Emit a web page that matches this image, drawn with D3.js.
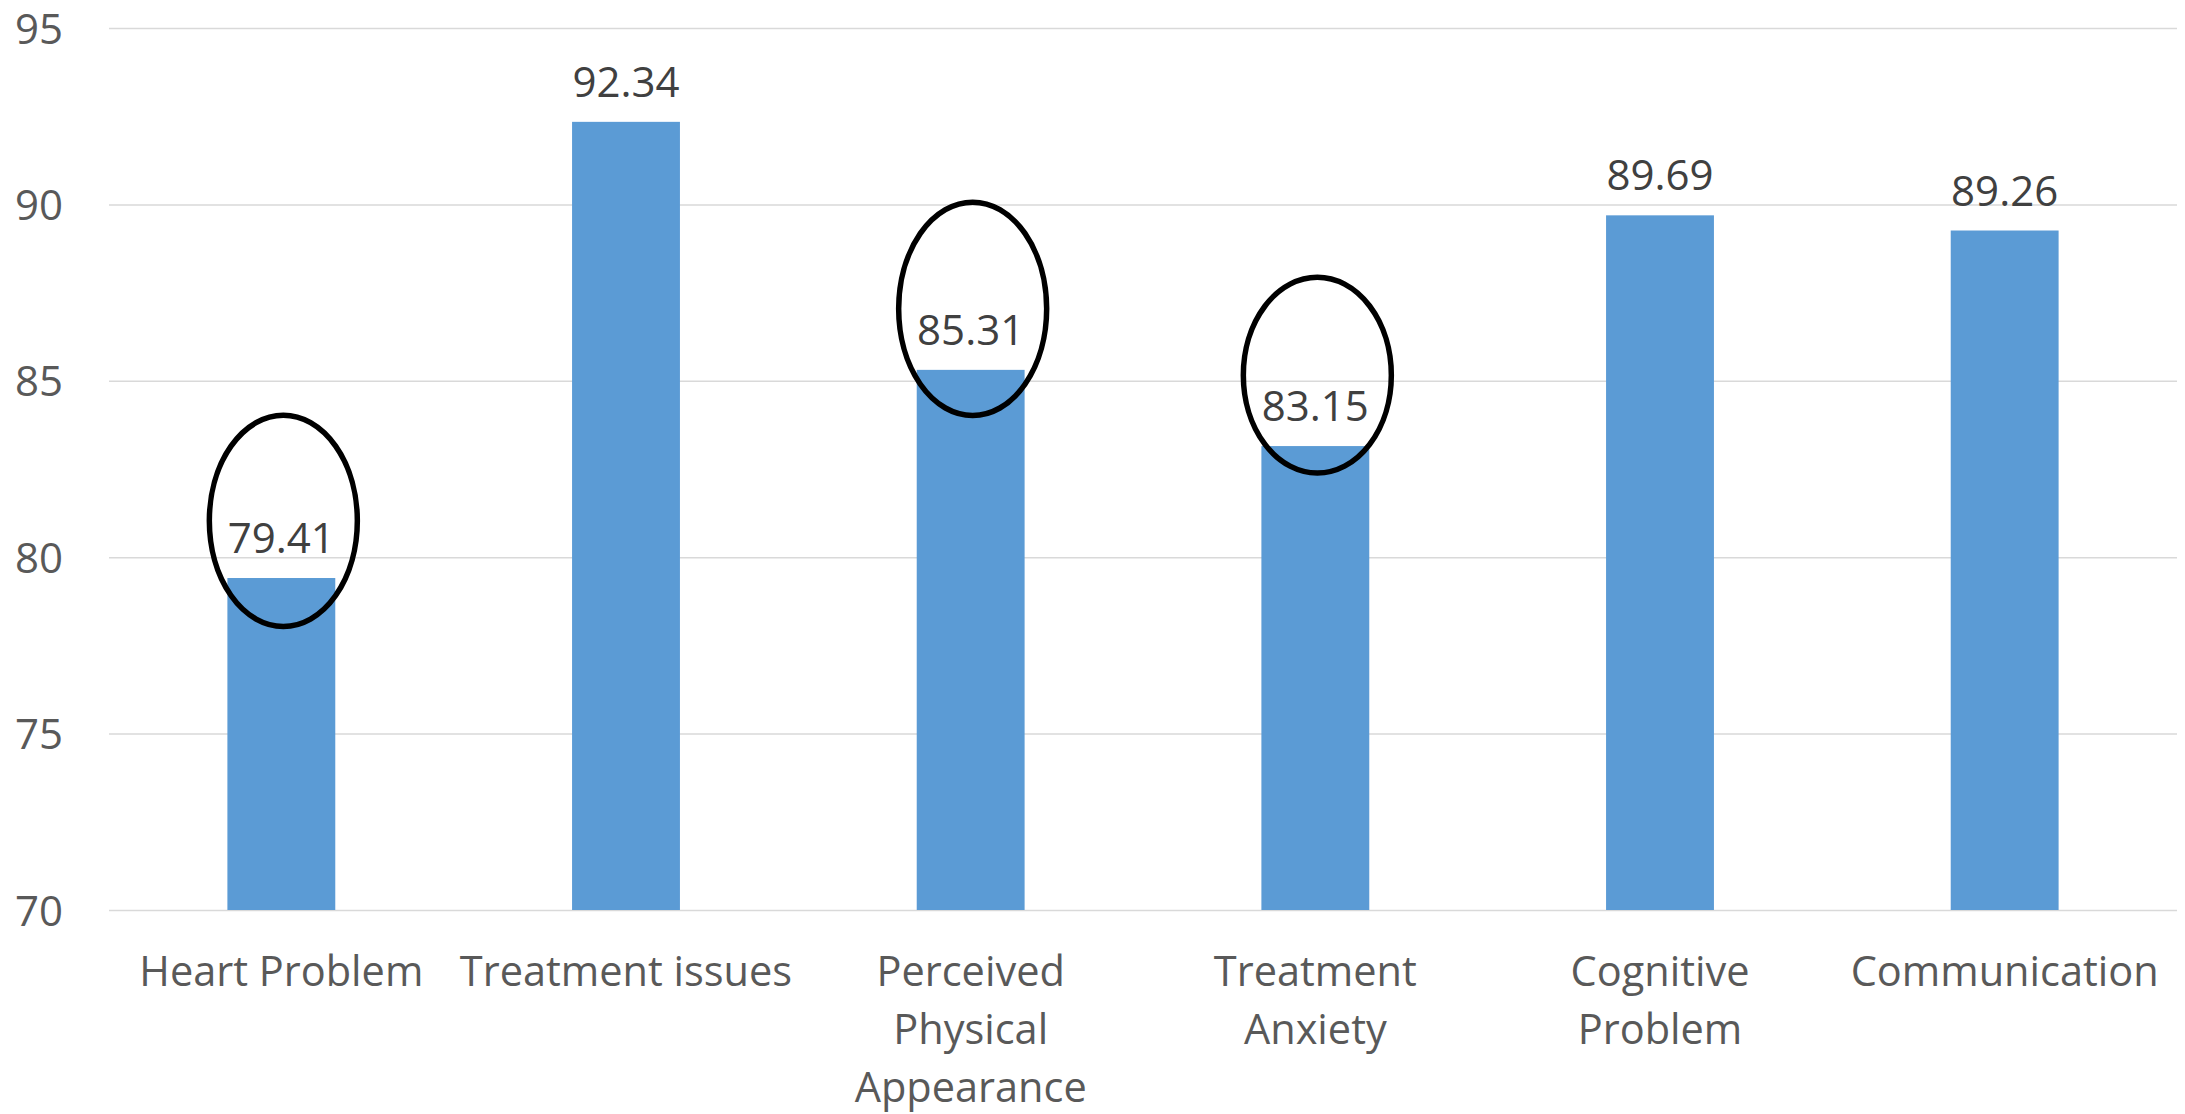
<!DOCTYPE html>
<html>
<head>
<meta charset="utf-8">
<script src="https://cdn.jsdelivr.net/npm/d3@7"></script>
<style>
  html, body { margin: 0; padding: 0; background: #ffffff; }
  svg { display: block; font-family: "Open Sans", sans-serif; }
</style>
</head>
<body>
<svg id="chart" width="2185" height="1114"></svg>
<script>
// ---- data ----
const categories = ["Heart Problem", "Treatment issues", "Perceived Physical Appearance", "Treatment Anxiety", "Cognitive Problem", "Communication"];
const values = [79.41, 92.34, 85.31, 83.15, 89.69, 89.26];
const yTicks = [70, 75, 80, 85, 90, 95];
const yDomain = [70, 95];
// annotation ellipses (drawn around selected value labels)
const circledCategories = ["Heart Problem", "Perceived Physical Appearance", "Treatment Anxiety"];
const circleCenterValues = [81.03, 87.04, 85.16];
const circleHalfSpans = [3.05, 3.08, 2.83];

// ---- layout ----
const svg = d3.select("#chart");
const margin = { left: 109, right: 8, top: 28, bottom: 204 };
const W = 2185, H = 1114;
const plotW = W - margin.left - margin.right;
const plotH = H - margin.top - margin.bottom;

const x = d3.scaleBand().domain(categories).range([0, plotW]).paddingInner(0.687).paddingOuter(0.3435);
const y = d3.scaleLinear().domain(yDomain).range([plotH, 0]);

const g = svg.append("g").attr("transform", `translate(${margin.left},${margin.top})`);

// gridlines
const yAxis = d3.axisLeft(y).tickValues(yTicks).tickSize(-plotW).tickFormat(d3.format("d")).tickPadding(46);
const ya = g.append("g").call(yAxis);
ya.select(".domain").remove();
ya.selectAll(".tick line").attr("stroke", "#d9d9d9").attr("stroke-width", 1.5);
ya.selectAll(".tick text").attr("fill", "#595959").attr("font-size", 42).attr("font-family", "Open Sans, sans-serif").attr("dy", "0.36em");

// bars
g.selectAll("rect.bar").data(categories).enter().append("rect")
  .attr("class", "bar")
  .attr("x", d => x(d))
  .attr("width", x.bandwidth())
  .attr("y", (d, i) => y(values[i]))
  .attr("height", (d, i) => y(yDomain[0]) - y(values[i]))
  .attr("fill", "#5b9bd5");

// value labels
g.selectAll("text.val").data(categories).enter().append("text")
  .attr("class", "val")
  .attr("x", d => x(d) + x.bandwidth() / 2)
  .attr("y", (d, i) => y(values[i]) - 25)
  .attr("text-anchor", "middle")
  .attr("fill", "#404040")
  .attr("font-size", 42)
  .text((d, i) => values[i].toFixed(2));

// category labels (wrapped to band step)
const xAxis = d3.axisBottom(x).tickSize(0).tickPadding(0);
const xa = g.append("g").attr("transform", `translate(0,${plotH})`).call(xAxis);
xa.select(".domain").remove();
xa.selectAll(".tick text")
  .attr("fill", "#595959")
  .attr("font-size", 41.5)
  .attr("font-family", "Open Sans, sans-serif")
  .attr("y", 76)
  .attr("dy", 0)
  .each(function (d) {
    const t = d3.select(this);
    const words = d.split(" ");
    t.text(null);
    const maxW = x.step() + 2;
    let lines = [];
    let line = [];
    const probe = t.append("tspan");
    words.forEach(w => {
      const test = line.concat([w]).join(" ");
      probe.text(test);
      if (probe.node().getComputedTextLength() > maxW && line.length) {
        lines.push(line.join(" "));
        line = [w];
      } else {
        line.push(w);
      }
    });
    if (line.length) lines.push(line.join(" "));
    probe.remove();
    lines.forEach((l, k) => {
      t.append("tspan").attr("x", 0).attr("y", 76 + k * 58).text(l);
    });
  });

// annotation ellipses
g.selectAll("ellipse.note").data(circledCategories).enter().append("ellipse")
  .attr("class", "note")
  .attr("cx", d => x(d) + x.bandwidth() / 2 + 2)
  .attr("cy", (d, i) => y(circleCenterValues[i]))
  .attr("rx", 74)
  .attr("ry", (d, i) => y(yDomain[0]) - y(yDomain[0] + circleHalfSpans[i]) - 2)
  .attr("fill", "none")
  .attr("stroke", "#000000")
  .attr("stroke-width", 5.5);
</script>
</body>
</html>
